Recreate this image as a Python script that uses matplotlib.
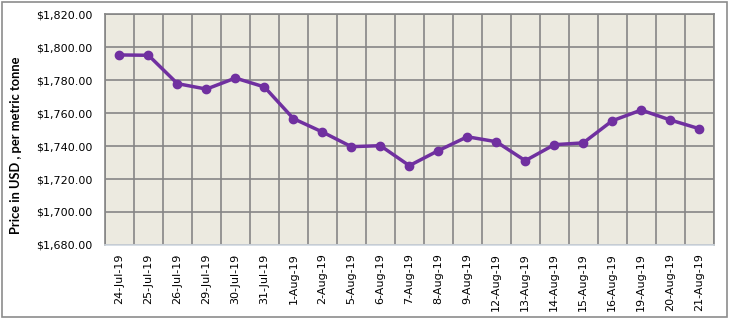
import matplotlib
matplotlib.use('Agg')
import matplotlib.pyplot as plt
from matplotlib.patches import Rectangle
from matplotlib.ticker import FuncFormatter

# Price data
dates = ['24-Jul-19', '25-Jul-19', '26-Jul-19', '29-Jul-19', '30-Jul-19', '31-Jul-19',
         '1-Aug-19', '2-Aug-19', '5-Aug-19', '6-Aug-19', '7-Aug-19', '8-Aug-19',
         '9-Aug-19', '12-Aug-19', '13-Aug-19', '14-Aug-19', '15-Aug-19', '16-Aug-19',
         '19-Aug-19', '20-Aug-19', '21-Aug-19']
prices = [1795.2, 1795.0, 1777.8, 1774.5, 1781.2, 1775.8,
          1756.6, 1748.5, 1739.6, 1740.2, 1728.1, 1737.2,
          1745.6, 1742.6, 1731.1, 1740.8, 1741.9, 1755.3,
          1761.8, 1755.8, 1750.5]
y_ticks = [1680, 1700, 1720, 1740, 1760, 1780, 1800, 1820]

fig = plt.figure(figsize=(7.29, 3.19), dpi=100)
ax = fig.add_axes([0.144, 0.232, 0.835, 0.724])

# outer chart border
fig.patches.append(Rectangle((0.003, 0.006), 0.994, 0.988, transform=fig.transFigure,
                             fill=False, edgecolor='#8c8c8c', linewidth=1.2))

ax.set_facecolor('#ECEAE0')
x = list(range(len(dates)))
ax.plot(x, prices, color='#7030A0', linewidth=2.5, marker='o', markersize=6, zorder=3)

ax.set_xlim(-0.5, len(dates) - 0.5)
ax.set_ylim(1680, 1820)
ax.set_yticks(y_ticks)
ax.yaxis.set_major_formatter(FuncFormatter(lambda v, p: '${:,.2f}'.format(v)))
ax.set_xticks(x)
ax.set_xticklabels(dates, rotation=90)
ax.set_xticks([i - 0.5 for i in range(len(dates) + 1)], minor=True)

ax.grid(which='major', axis='y', color='#868686', linewidth=1.2)
ax.grid(which='minor', axis='x', color='#868686', linewidth=1.2)
ax.tick_params(axis='both', which='both', length=0, labelsize=8, colors='black')
ax.tick_params(axis='y', pad=9)
ax.tick_params(axis='x', pad=6)

for side in ['left', 'top', 'right']:
    ax.spines[side].set_color('#868686')
    ax.spines[side].set_linewidth(1.2)
ax.spines['bottom'].set_color('#D0D8E0')
ax.spines['bottom'].set_linewidth(1.2)

ax.set_ylabel('Price in USD , per metric tonne', fontsize=9.3, fontweight='bold',
              family='Lato')
ax.yaxis.set_label_coords(-0.136, 0.43)

plt.savefig('out.png', dpi=100)
